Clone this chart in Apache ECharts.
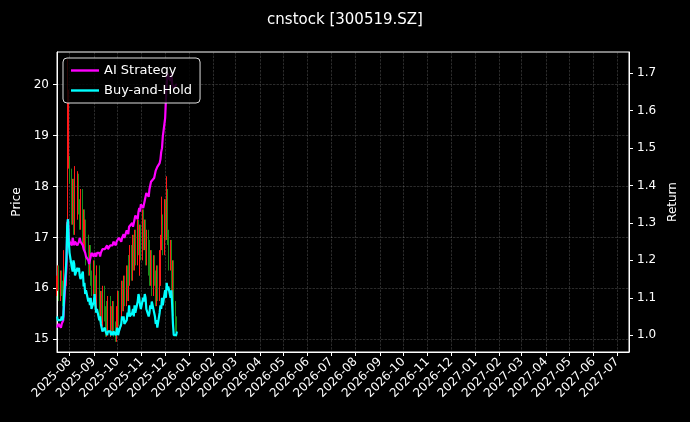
<!DOCTYPE html>
<html><head><meta charset="utf-8">
<script src="https://cdn.jsdelivr.net/npm/echarts@6/dist/echarts.min.js"></script>
<style>html,body{margin:0;background:#000}#c{width:690px;height:422px}</style>
</head><body><div id="c"></div>
<script>
const startDate = '2025-07-16';
const nDays = 110;
const closes = [16.1,16.3,15.9,16.2,16.0,15.8,16.4,16.6,16.2,17.0,
18.5,19.6,18.2,17.4,18.0,17.6,17.2,17.9,17.5,18.1,
17.6,17.3,17.8,17.0,17.4,16.9,17.2,16.6,16.9,16.4,
16.7,16.2,16.0,16.4,15.8,16.1,15.7,16.3,15.9,15.5,
15.8,15.4,15.9,15.5,15.2,15.6,15.3,15.7,15.2,15.5,
15.3,15.6,15.2,15.1,15.5,15.3,15.8,15.4,15.6,16.0,
15.7,16.1,15.8,16.3,15.9,16.5,16.2,16.7,16.3,16.9,
16.5,17.0,16.6,17.2,16.8,16.4,17.1,16.7,17.4,16.9,
17.2,16.6,17.0,16.4,16.8,16.2,16.6,16.0,16.5,16.2,
15.8,16.3,15.9,16.6,16.2,16.9,17.3,16.8,17.6,17.1,
17.8,17.0,16.5,16.8,16.2,15.9,16.4,15.6,15.3,15.2];
const specialHighs = {9:17.3,10:20.5,11:19.9,12:18.6,17:18.4,19:18.3,96:17.8,100:18.2};
const aiReturn = [1.02,1.02,1.03,1.02,1.03,1.03,1.04,1.08,1.18,1.28,
1.31,1.26,1.25,1.24,1.26,1.25,1.24,1.25,1.24,1.24,
1.25,1.26,1.25,1.24,1.23,1.23,1.22,1.21,1.20,1.19,
1.20,1.21,1.22,1.21,1.22,1.22,1.21,1.22,1.22,1.21,
1.22,1.22,1.23,1.23,1.23,1.23,1.24,1.23,1.24,1.24,
1.24,1.24,1.25,1.24,1.25,1.25,1.25,1.26,1.25,1.26,
1.26,1.27,1.26,1.28,1.28,1.27,1.29,1.29,1.30,1.29,
1.29,1.31,1.32,1.31,1.33,1.34,1.33,1.35,1.34,1.35,
1.36,1.37,1.38,1.37,1.39,1.40,1.41,1.41,1.42,1.43,
1.44,1.44,1.45,1.46,1.47,1.49,1.50,1.53,1.58,1.63,
1.67,1.70,1.69,1.68,1.70,1.67,1.67,1.66,1.67,1.67];
const bhReturn = [1.05,1.04,1.04,1.04,1.05,1.04,1.05,1.10,1.20,1.29,
1.31,1.25,1.22,1.18,1.17,1.20,1.19,1.16,1.18,1.17,
1.18,1.16,1.15,1.17,1.13,1.14,1.11,1.12,1.09,1.10,
1.08,1.10,1.07,1.09,1.11,1.08,1.06,1.07,1.04,1.05,
1.03,1.02,1.01,1.02,1.01,1.01,1.00,1.01,1.01,1.00,
1.01,1.00,1.01,1.00,1.01,1.02,1.00,1.01,1.03,1.05,
1.04,1.05,1.03,1.04,1.06,1.05,1.08,1.05,1.06,1.07,
1.05,1.08,1.06,1.09,1.11,1.10,1.08,1.07,1.10,1.09,
1.11,1.10,1.07,1.05,1.06,1.08,1.07,1.09,1.06,1.05,
1.03,1.04,1.02,1.06,1.08,1.07,1.10,1.08,1.12,1.10,
1.14,1.12,1.13,1.10,1.12,1.08,1.03,1.00,1.00,1.01];
const monthTicks = ['2025-08','2025-09','2025-10','2025-11','2025-12','2026-01','2026-02','2026-03','2026-04','2026-05','2026-06','2026-07','2026-08','2026-09','2026-10','2026-11','2026-12','2027-01','2027-02','2027-03','2027-04','2027-05','2027-06','2027-07'];

const dates = [];
{ let d = new Date(startDate + 'T00:00:00Z');
  while (dates.length < nDays) { const w = d.getUTCDay(); if (w !== 0 && w !== 6) dates.push(d.getTime()); d = new Date(d.getTime() + 86400000); } }
const tickVals = monthTicks.map(m => Date.parse(m + '-01T00:00:00Z'));
const candle = closes.map((c, i) => {
  const o = i === 0 ? 16.0 : closes[i-1];
  const hi = specialHighs[i] !== undefined ? specialHighs[i] : Math.max(o, c) + 0.15;
  const lo = Math.min(o, c) - 0.15;
  return [dates[i], o, c, lo, hi];
});
const chart = echarts.init(document.getElementById('c'));
const white = '#ffffff', grid = 'rgba(160,160,160,0.45)';
chart.setOption({
  backgroundColor: '#000',
  animation: false,
  textStyle: { fontFamily: 'DejaVu Sans' },
  title: { text: 'cnstock [300519.SZ]', left: 'center', top: 8, textStyle: { color: white, fontSize: 15, fontWeight: 'normal', fontFamily: 'DejaVu Sans' } },
  legend: { left: 63, top: 58, orient: 'vertical', backgroundColor: 'rgba(0,0,0,0.85)', borderColor: '#ddd', borderWidth: 1, borderRadius: 4, padding: [6, 8], itemGap: 7, itemWidth: 28, itemHeight: 10,
    textStyle: { color: white, fontSize: 13 }, data: [{name:'AI Strategy', icon:'path://M0,4L28,4L28,6.4L0,6.4Z'}, {name:'Buy-and-Hold', icon:'path://M0,4L28,4L28,6.4L0,6.4Z'}] },
  grid: { left: 57, right: 61, top: 52, bottom: 70, show: true, borderColor: white, borderWidth: 1 },
  xAxis: { type: 'value', min: Date.parse('2025-07-16T00:00:00Z'), max: Date.parse('2027-07-16T00:00:00Z'),
    axisLine: { lineStyle: { color: white } },
    axisTick: { show: true, length: 4, lineStyle: { color: white }, customValues: tickVals },
    axisLabel: { color: white, fontSize: 12, rotate: 45, customValues: tickVals, formatter: v => { const d = new Date(v); return d.getUTCFullYear() + '-' + String(d.getUTCMonth()+1).padStart(2,'0'); } },
    splitLine: { show: true, lineStyle: { color: grid, type: 'dashed', width: 0.6 } } },
  yAxis: [
    { type: 'value', min: 14.75, max: 20.64, name: 'Price', nameLocation: 'middle', nameGap: 32, nameTextStyle: { color: white, fontSize: 12 },
      axisLine: { show: true, lineStyle: { color: white } }, axisTick: { show: true, length: 4, lineStyle: { color: white }, customValues: [15,16,17,18,19,20] },
      axisLabel: { color: white, fontSize: 12, customValues: [15,16,17,18,19,20] },
      splitLine: { show: true, lineStyle: { color: grid, type: 'dashed', width: 0.6 } } },
    { type: 'value', min: 0.955, max: 1.757, name: 'Return', nameLocation: 'middle', nameGap: 36, nameTextStyle: { color: white, fontSize: 12 }, position: 'right',
      axisLine: { show: true, lineStyle: { color: white } }, axisTick: { show: true, length: 4, lineStyle: { color: white }, customValues: [1.0,1.1,1.2,1.3,1.4,1.5,1.6,1.7] },
      axisLabel: { color: white, fontSize: 12, customValues: [1.0,1.1,1.2,1.3,1.4,1.5,1.6,1.7], formatter: v => v.toFixed(1) },
      splitLine: { show: false } }
  ],
  series: [
    { type: 'candlestick', name: 'price', data: candle, barWidth: 1, itemStyle: { color: '#ff1a1a', color0: '#1a8c1a', borderColor: '#ff1a1a', borderColor0: '#1a8c1a', borderWidth: 1 } },
    { type: 'line', name: 'AI Strategy', yAxisIndex: 1, data: dates.map((d,i)=>[d, aiReturn[i]]), showSymbol: false, lineStyle: { color: '#ff00ff', width: 2.2 }, itemStyle: { color: '#ff00ff' } },
    { type: 'line', name: 'Buy-and-Hold', yAxisIndex: 1, data: dates.map((d,i)=>[d, bhReturn[i]]), showSymbol: false, lineStyle: { color: '#00ffff', width: 2.2 }, itemStyle: { color: '#00ffff' } }
  ]
});
</script></body></html>
